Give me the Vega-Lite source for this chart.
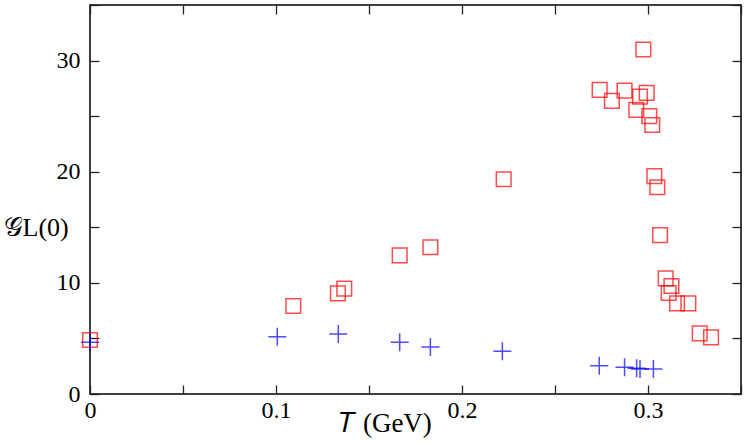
{
  "$schema": "https://vega.github.io/schema/vega-lite/v6.json",
  "width": 651,
  "height": 389,
  "autosize": {"type": "none"},
  "padding": {"left": 90, "top": 5, "right": 6, "bottom": 50},
  "background": "white",
  "config": {
    "view": {"stroke": "black", "strokeWidth": 1.5},
    "axis": {
      "grid": false,
      "domain": false,
      "tickColor": "#222",
      "tickWidth": 1.3,
      "tickSize": -9,
      "labelFont": "Liberation Serif",
      "labelFontSize": 24,
      "labelColor": "black",
      "titleFont": "Liberation Serif",
      "titleColor": "black",
      "titleFontWeight": "normal"
    }
  },
  "data": {
    "values": [
      {"T": 0.0, "G": 4.86, "s": "sq"},
      {"T": 0.1093, "G": 7.92, "s": "sq"},
      {"T": 0.1333, "G": 9.06, "s": "sq"},
      {"T": 0.1367, "G": 9.48, "s": "sq"},
      {"T": 0.1665, "G": 12.48, "s": "sq"},
      {"T": 0.183, "G": 13.2, "s": "sq"},
      {"T": 0.2224, "G": 19.32, "s": "sq"},
      {"T": 0.274, "G": 27.36, "s": "sq"},
      {"T": 0.2806, "G": 26.37, "s": "sq"},
      {"T": 0.2874, "G": 27.3, "s": "sq"},
      {"T": 0.2957, "G": 26.76, "s": "sq"},
      {"T": 0.2993, "G": 27.1, "s": "sq"},
      {"T": 0.2937, "G": 25.56, "s": "sq"},
      {"T": 0.2975, "G": 31.0, "s": "sq"},
      {"T": 0.3007, "G": 25.0, "s": "sq"},
      {"T": 0.3023, "G": 24.2, "s": "sq"},
      {"T": 0.3034, "G": 19.6, "s": "sq"},
      {"T": 0.305, "G": 18.6, "s": "sq"},
      {"T": 0.3065, "G": 14.3, "s": "sq"},
      {"T": 0.3095, "G": 10.4, "s": "sq"},
      {"T": 0.3126, "G": 9.72, "s": "sq"},
      {"T": 0.3111, "G": 9.09, "s": "sq"},
      {"T": 0.3156, "G": 8.16, "s": "sq"},
      {"T": 0.3217, "G": 8.16, "s": "sq"},
      {"T": 0.3278, "G": 5.46, "s": "sq"},
      {"T": 0.3339, "G": 5.1, "s": "sq"},
      {"T": 0.0, "G": 4.65, "s": "cr"},
      {"T": 0.1007, "G": 5.16, "s": "cr"},
      {"T": 0.1335, "G": 5.4, "s": "cr"},
      {"T": 0.1665, "G": 4.65, "s": "cr"},
      {"T": 0.183, "G": 4.23, "s": "cr"},
      {"T": 0.2217, "G": 3.84, "s": "cr"},
      {"T": 0.2738, "G": 2.55, "s": "cr"},
      {"T": 0.2874, "G": 2.4, "s": "cr"},
      {"T": 0.2939, "G": 2.31, "s": "cr"},
      {"T": 0.2957, "G": 2.25, "s": "cr"},
      {"T": 0.3029, "G": 2.25, "s": "cr"}
    ]
  },
  "layer": [
    {
      "mark": {"type": "point", "filled": false, "strokeWidth": 1.5, "opacity": 0.7},
      "encoding": {
        "x": {
          "field": "T", "type": "quantitative",
          "scale": {"domain": [0, 0.35], "nice": false, "zero": false},
          "axis": {
            "orient": "bottom",
            "values": [0, 0.05, 0.1, 0.15, 0.2, 0.25, 0.3, 0.35],
            "labelExpr": "round(datum.value*20) % 2 == 0 && datum.value < 0.34 ? format(datum.value, '.1~f') : ''",
            "labelPadding": 13,
            "labelFlush": false,
            "title": "𝑇 (GeV)",
            "titleFontSize": 27,
            "titleX": 295,
            "titleY": 37,
            "titleAlign": "center",
            "titleBaseline": "alphabetic"
          }
        },
        "y": {
          "field": "G", "type": "quantitative",
          "scale": {"domain": [0, 35], "nice": false},
          "axis": {
            "orient": "left",
            "values": [0, 5, 10, 15, 20, 25, 30, 35],
            "labelExpr": "datum.value % 10 == 0 ? datum.value : ''",
            "labelPadding": 19,
            "title": "𝒢L(0)",
            "titleAngle": 0,
            "titleFontSize": 26,
            "titleAlign": "left",
            "titleBaseline": "middle",
            "titleX": -87,
            "titleY": 222
          }
        },
        "color": {
          "field": "s", "type": "nominal",
          "scale": {"domain": ["sq", "cr"], "range": ["#ff0000", "#0000ff"]},
          "legend": null
        },
        "shape": {
          "field": "s", "type": "nominal",
          "scale": {"domain": ["sq", "cr"], "range": ["square", "M-1,0H1M0,-1V1"]},
          "legend": null
        },
        "size": {
          "field": "s", "type": "nominal",
          "scale": {"domain": ["sq", "cr"], "range": [215, 324]},
          "legend": null
        }
      }
    },
    {
      "mark": {"type": "point", "opacity": 0},
      "encoding": {
        "x": {
          "field": "T", "type": "quantitative",
          "axis": {
            "orient": "top",
            "values": [0, 0.05, 0.1, 0.15, 0.2, 0.25, 0.3, 0.35],
            "labels": false,
            "title": null
          }
        },
        "y": {
          "field": "G", "type": "quantitative",
          "axis": {
            "orient": "right",
            "values": [0, 5, 10, 15, 20, 25, 30, 35],
            "labels": false,
            "title": null
          }
        }
      }
    }
  ]
}
